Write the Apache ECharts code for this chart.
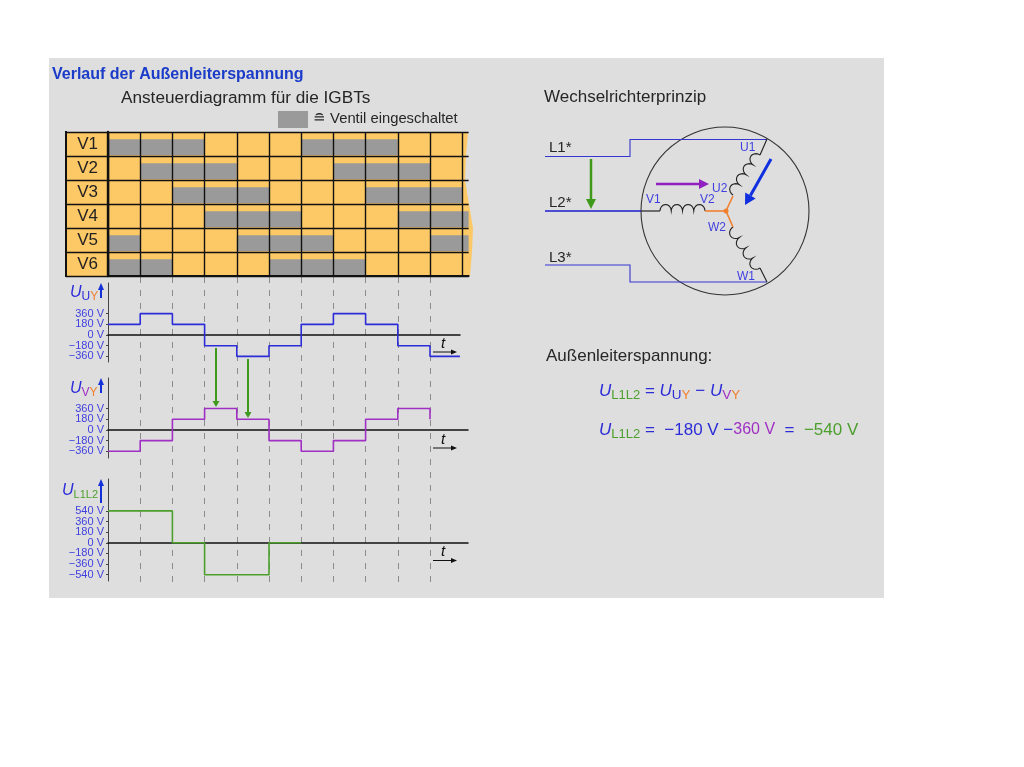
<!DOCTYPE html>
<html><head><meta charset="utf-8">
<script src="https://cdn.jsdelivr.net/npm/echarts@6/dist/echarts.min.js"></script>
<style>html,body{margin:0;padding:0;background:#fff}#c{width:1024px;height:767px}</style>
</head><body><div id="c"></div>
<script>
const valves = ['V1','V2','V3','V4','V5','V6'];
const onV1 = [[0,3],[6,9]];
const onV2 = [[1,4],[7,10]];
const onV3 = [[2,5],[8,11]];
const onV4 = [[3,6],[9,11.2]];
const onV5 = [[0,1],[4,7],[10,11.2]];
const onV6 = [[0,2],[5,8]];
const tUY = [0,1,2,3,4,5,6,7,8,9,10,10.93];
const uUY = [180,360,180,-180,-360,-180,180,360,180,-180,-360,-360];
const tVY = [0,1,2,3,4,5,6,7,8,9,10,10];
const uVY = [-360,-180,180,360,180,-180,-360,-180,180,360,360,180];
const tL = [0,2,3,5,6];
const uL = [540,0,-540,0,0];
const ticks360 = [-360,-180,0,180,360];
const ticks540 = [-540,-360,-180,0,180,360,540];

const STEP = 32.2, X0 = 108;
const BLUE='#2c2cd8', LBL='#3f3fe0', PURPLE='#a030c4', GREEN='#4c9f2c', ORANGE='#f08030', TXT='#262626';
const SANS='"Liberation Sans",Arial,sans-serif';

const allOn = [onV1,onV2,onV3,onV4,onV5,onV6];
const ganttData = [];
allOn.forEach((a,r)=>a.forEach(p=>ganttData.push([r,p[0],p[1]])));
const zip=(a,b)=>a.map((v,i)=>[v,b[i]]);
const fmtV=v=>(v<0?'\u2212'+(-v):v)+' V';

function line(pts,color,w,z){return {type:'polyline',z:z==null?5:z,shape:{points:pts},style:{stroke:color,lineWidth:w,fill:null}};}
function arrow(x1,y1,x2,y2,color,w,hl,hw){
  const d=Math.hypot(x2-x1,y2-y1),ux=(x2-x1)/d,uy=(y2-y1)/d,bx=x2-ux*hl,by=y2-uy*hl;
  return [line([[x1,y1],[bx,by]],color,w,6),
    {type:'polygon',z:6,shape:{points:[[x2,y2],[bx-uy*hw,by+ux*hw],[bx+uy*hw,by-ux*hw]]},style:{fill:color}}];
}
function text(x,y,str,font,fill,align){return {type:'text',z:7,style:{x,y,text:str,font,fill:fill||TXT,textAlign:align||'left',textVerticalAlign:'middle'}};}
function rich(x,y,str,r){return {type:'text',z:7,style:{x,y,text:str,rich:r,textVerticalAlign:'middle'}};}
function coil(x1,y1,x2,y2,n,side){
  const d=Math.hypot(x2-x1,y2-y1),ux=(x2-x1)/d,uy=(y2-y1)/d,px=-uy*side,py=ux*side,rad=d/n/2,pts=[];
  for(let i=0;i<n;i++){for(let k=0;k<=10;k++){
    const a=Math.PI*k/10,s=(2*i+1)*rad-Math.cos(a)*rad,h=Math.sin(a)*rad*1.15;
    pts.push([x1+ux*s+px*h,y1+uy*s+py*h]);}}
  return line(pts,'#222',1.1);
}
const uStyles={u:{font:'italic 17px '+SANS,fill:BLUE},
  o:{font:'13.5px '+SANS,fill:ORANGE,padding:[8,0,0,0]},b:{font:'13.5px '+SANS,fill:BLUE,padding:[8,0,0,0]},
  p:{font:'13.5px '+SANS,fill:PURPLE,padding:[8,0,0,0]},g:{font:'13px '+SANS,fill:GREEN,padding:[8,0,0,0]},
  bb:{font:'17px '+SANS,fill:BLUE},pp:{font:'16px '+SANS,fill:PURPLE},
  gg:{font:'17px '+SANS,fill:GREEN},kk:{font:'17px '+SANS,fill:TXT},
  n:{font:'17px '+SANS,fill:BLUE},t:{font:'13px '+SANS,fill:TXT}};
const axisStyles={u:{font:'italic 16px '+SANS,fill:BLUE},
  b:{font:'12px '+SANS,fill:BLUE,padding:[7,0,0,0]},o:{font:'12px '+SANS,fill:ORANGE,padding:[7,0,0,0]},
  p:{font:'12px '+SANS,fill:PURPLE,padding:[7,0,0,0]},g:{font:'11px '+SANS,fill:GREEN,padding:[7,0,0,0]}};

const tMark=(yT,yA)=>[text(441,yT,'t','italic 15px '+SANS,'#111'),...arrow(433,yA,457,yA,'#111',1,6,2.5)];

const graphic=[
 {type:'rect',z:-3,shape:{x:49,y:58,width:835,height:540},style:{fill:'#dedede'}},
 {type:'polygon',z:-2,shape:{points:[[66,132],[468,132],[466,156],[465,180],[469,204],[473,228],[472,252],[470,276],[66,276]]},style:{fill:'#fdc866'}},
 text(52,75,'Verlauf der Außenleiterspannung','bold 16px '+SANS,'#1a3cc8'),
 text(121,98,'Ansteuerdiagramm für die IGBTs','17.2px '+SANS),
 {type:'rect',z:7,shape:{x:278,y:111,width:30,height:17},style:{fill:'#9a9a9a'}},
 text(313,119,'\u2258 Ventil eingeschaltet','14.8px '+SANS),
 line([[66,131],[66,277]],'#111',2,7),
 rich(70,293,'{u|U}{b|U}{o|Y}',axisStyles),
 rich(70,389,'{u|U}{p|V}{o|Y}',axisStyles),
 rich(62,491,'{u|U}{g|L1L2}',axisStyles),
 ...arrow(101,298,101,283,'#1430d8',2,7,3),
 ...arrow(101,393,101,378,'#1430d8',2,7,3),
 ...arrow(101,503,101,479,'#1430d8',2,7,3),
 ...tMark(344,352),...tMark(440,448),...tMark(552,560.5),
 ...arrow(216,348,216,407,'#3f9a1c',2,6,3.5),
 ...arrow(248,359,248,418,'#3f9a1c',2,6,3.5),
 // circuit
 text(544,97,'Wechselrichterprinzip','17px '+SANS),
 text(549,148,'L1*','15px '+SANS),text(549,203,'L2*','15px '+SANS),text(549,258,'L3*','15px '+SANS),
 {type:'circle',z:4,shape:{cx:725,cy:211,r:84},style:{fill:null,stroke:'#333',lineWidth:1.1}},
 line([[545,156.5],[630,156.5],[630,139.5],[767,139.5]],'#3535d0',1.1),
 line([[545,265],[630,265],[630,282],[767,282]],'#3535d0',1.1),
 line([[545,211],[641,211]],'#1c1cd0',1.5),
 line([[641,211],[660,211]],'#222',1.2),
 line([[767,139],[760,155]],'#222',1.1),
 line([[760,268],[767,282]],'#222',1.1),
 coil(760,155,733,195,4,1),
 coil(660,211,705,211,4,-1),
 coil(733,227,760,268,4,1),
 line([[705,211],[726,211]],ORANGE,1.6),
 line([[733,196],[726,211],[733,227]],ORANGE,1.6),
 {type:'circle',z:6,shape:{cx:726,cy:211,r:2.5},style:{fill:ORANGE}},
 text(740,148,'U1','12px '+SANS,LBL),text(712,189,'U2','12px '+SANS,LBL),
 text(646,200,'V1','12px '+SANS,LBL),text(700,200,'V2','12px '+SANS,LBL),
 text(708,228,'W2','12px '+SANS,LBL),text(737,277,'W1','12px '+SANS,LBL),
 ...arrow(656,184,709,184,'#9020c0',2.5,10,5),
 ...arrow(591,159,591,209,'#3f9a1c',2.5,10,5),
 ...arrow(771,159,745,205,'#1030e0',3,11,6),
 // formulas
 text(546,356,'Außenleiterspannung:','17px '+SANS),
 rich(599,391,'{u|U}{g|L1L2}{kk| }{bb|=}{kk| }{u|U}{b|U}{o|Y}{kk| }{bb|\u2212}{kk| }{u|U}{p|V}{o|Y}',uStyles),
 rich(599,430,'{u|U}{g|L1L2}{kk| }{bb|=}{kk|  }{n|\u2212180 V}{kk| }{bb|\u2212}{pp|360 V}{kk|  }{bb|=}{kk|  }{gg|\u2212540 V}',uStyles)
];

function stepGrid(i,top,bottom,maxX){return {left:X0,top,width:maxX*STEP,height:bottom-top};}
function xHidden(i,maxX){return {type:'value',gridIndex:i,min:0,max:maxX,axisLabel:{show:false},axisTick:{show:false},splitLine:{show:false},
  axisLine:{show:true,onZero:true,lineStyle:{color:'#111',width:1.6}}};}
function yStep(i,lo,hi,t){return {type:'value',gridIndex:i,min:lo,max:hi,splitLine:{show:false},
  axisLine:{show:true,onZero:false,lineStyle:{color:'#444',width:1}},
  axisTick:{show:true,length:2,inside:false,customValues:t,lineStyle:{color:'#444'}},
  axisLabel:{customValues:[lo,...t,hi],formatter:v=>t.includes(v)?fmtV(v):'',color:LBL,fontFamily:SANS,fontSize:11,margin:4}};}

const option={
 animation:false,backgroundColor:'#fff',graphic:{elements:graphic},
 grid:[
  {left:X0,top:132,width:11.2*STEP,height:144},
  stepGrid(1,283,362,10.93),
  stepGrid(2,378,458,11.18),
  stepGrid(3,479,581,11.18),
  {left:X0,top:277,width:10*STEP,height:309}
 ],
 xAxis:[
  {type:'value',gridIndex:0,min:0,max:11.2,interval:1,z:3,axisLabel:{show:false},axisTick:{show:false},
   axisLine:{show:true,lineStyle:{color:'#111',width:2}},
   splitLine:{show:true,showMaxLine:false,lineStyle:{color:'#111',width:1.4}}},
  xHidden(1,10.93),xHidden(2,11.18),xHidden(3,11.18),
  {type:'value',gridIndex:4,min:0,max:10,interval:1,axisLine:{show:false},axisTick:{show:false},axisLabel:{show:false},
   splitLine:{show:true,showMinLine:false,lineStyle:{color:'#8c8c8c',width:1,type:[6,7]}}}
 ],
 yAxis:[
  {type:'category',gridIndex:0,data:valves,inverse:true,z:3,
   axisLine:{show:true,lineStyle:{color:'#111',width:2.4}},
   axisTick:{show:true,length:42,lineStyle:{color:'#111',width:1.4}},
   axisLabel:{color:'#222',fontFamily:SANS,fontSize:17,margin:10},
   splitLine:{show:true,lineStyle:{color:'#111',width:1.4}}},
  yStep(1,-455,877,ticks360),
  yStep(2,-473,873,ticks360),
  yStep(3,-646,1080,ticks540),
  {type:'value',gridIndex:4,min:0,max:1,show:false}
 ],
 series:[
  {type:'custom',xAxisIndex:0,yAxisIndex:0,z:1,data:ganttData,encode:{x:[1,2],y:0},
   renderItem(p,api){
    const a=api.coord([api.value(1),api.value(0)]),b=api.coord([api.value(2),api.value(0)]),h=api.size([0,1])[1];
    return {type:'rect',shape:{x:a[0],y:a[1]-h*0.2,width:b[0]-a[0],height:h*0.67},style:{fill:'#9a9a9a'}};
   }},
  {type:'line',xAxisIndex:1,yAxisIndex:1,step:'end',showSymbol:false,z:3,clip:false,data:zip(tUY,uUY),lineStyle:{color:BLUE,width:1.6}},
  {type:'line',xAxisIndex:2,yAxisIndex:2,step:'end',showSymbol:false,z:3,clip:false,data:zip(tVY,uVY),lineStyle:{color:PURPLE,width:1.6}},
  {type:'line',xAxisIndex:3,yAxisIndex:3,step:'end',showSymbol:false,z:3,clip:false,data:zip(tL,uL),lineStyle:{color:GREEN,width:1.6}}
 ]
};
echarts.init(document.getElementById('c'),null,{renderer:'canvas'}).setOption(option);
</script></body></html>
